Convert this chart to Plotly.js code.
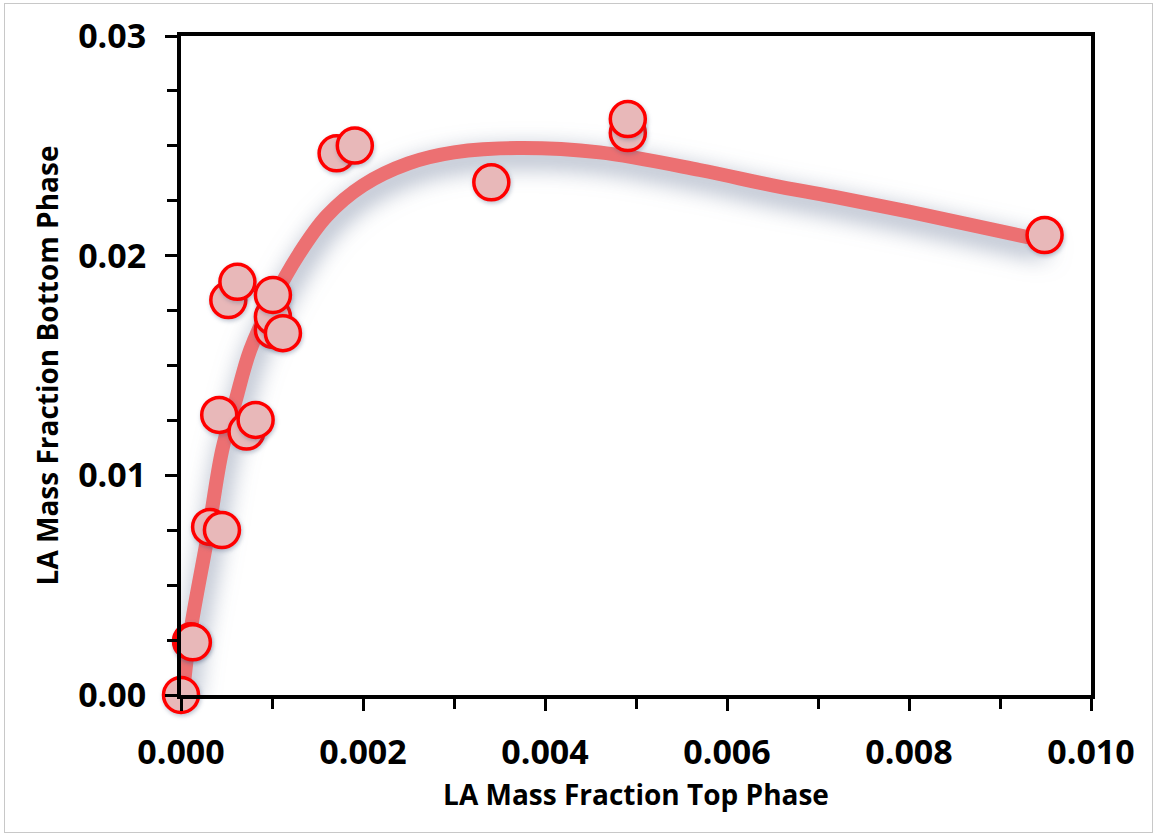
<!DOCTYPE html>
<html>
<head>
<meta charset="utf-8">
<script src="https://cdn.plot.ly/plotly-3.0.1.min.js"></script>
<style>
  html, body { margin: 0; padding: 0; background: #fff; }
  #wrap { position: relative; width: 1155px; height: 836px; }
  #chart { width: 1155px; height: 836px; }
  #frame { position: absolute; left: 4px; top: 3px; width: 1149px; height: 830px; border: 1px solid #c8c8c8; pointer-events: none; box-sizing: border-box; }
</style>
</head>
<body>
<div id="wrap"><div id="chart"></div><div id="frame"></div></div>
<script>
// Measured data points (LA mass fraction in top phase vs bottom phase)
const topPhase = [0.0000, 0.00011, 0.00013, 0.00032, 0.00045, 0.00042, 0.00072, 0.00082,
                  0.00052, 0.00062, 0.00101, 0.00101, 0.00101, 0.00112, 0.00171, 0.00191,
                  0.00341, 0.00491, 0.00491, 0.00949];
const bottomPhase = [0.0000, 0.00245, 0.00240, 0.00765, 0.00751, 0.01275, 0.01199, 0.01252,
                     0.01798, 0.01881, 0.01662, 0.01722, 0.01821, 0.01647, 0.02466, 0.02501,
                     0.02334, 0.02558, 0.02622, 0.02094];

// Fitted trend curve
const fitX = [0.00002, 0.0001, 0.0003, 0.00045, 0.0006, 0.00076, 0.0010, 0.0013, 0.0016, 0.0020,
              0.0025, 0.0030, 0.0037, 0.0046, 0.0057, 0.0065, 0.00715, 0.0080, 0.00947];
const fitY = [0.0000, 0.0028, 0.0074, 0.0111, 0.0134, 0.0157, 0.0179, 0.0201, 0.0218, 0.0232,
              0.0242, 0.0247, 0.0249, 0.0247, 0.0239, 0.0232, 0.0227, 0.0220, 0.0207];

const xTickVals = [0, 0.002, 0.004, 0.006, 0.008, 0.010];
const xTickText = ['0.000', '0.002', '0.004', '0.006', '0.008', '0.010'];
const yTickVals = [0, 0.01, 0.02, 0.03];
const yTickText = ['0.00', '0.01', '0.02', '0.03'];

const FONT = '"Open Sans", "DejaVu Sans", sans-serif';

const traces = [
  {
    x: fitX, y: fitY, type: 'scatter', mode: 'lines',
    line: { color: '#EC7072', width: 14, shape: 'spline', smoothing: 1.0 },
    hoverinfo: 'skip', showlegend: false
  },
  {
    x: topPhase, y: bottomPhase, type: 'scatter', mode: 'markers',
    marker: { size: 35, color: '#E8B8B9', line: { color: '#FF0000', width: 3.5 } },
    cliponaxis: false, showlegend: false
  }
];

const axisCommon = {
  showgrid: false, zeroline: false,
  showline: true, linecolor: '#000', linewidth: 4, mirror: true,
  ticks: 'outside', ticklen: 12, tickwidth: 3, tickcolor: '#000',
  tickfont: { family: FONT, size: 34, color: '#000', weight: 'bold' }
};

const layout = {
  width: 1155, height: 836,
  margin: { l: 181, r: 64, t: 36, b: 141 },
  paper_bgcolor: '#fff', plot_bgcolor: '#fff',
  font: { family: FONT, color: '#000' },
  xaxis: Object.assign({}, axisCommon, {
    range: [0, 0.010],
    tickmode: 'array', tickvals: xTickVals, ticktext: xTickText,
    ticklabelstandoff: 12,
    minor: { dtick: 0.001, ticks: 'outside', ticklen: 10, tickwidth: 3, tickcolor: '#000' },
    title: { text: 'LA Mass Fraction Top Phase', font: { family: FONT, size: 28, color: '#000', weight: 'bold' }, standoff: 14 }
  }),
  yaxis: Object.assign({}, axisCommon, {
    range: [0, 0.03],
    tickmode: 'array', tickvals: yTickVals, ticktext: yTickText,
    ticklabelstandoff: 12,
    minor: { dtick: 0.0025, ticks: 'outside', ticklen: 10, tickwidth: 3, tickcolor: '#000' },
    title: { text: 'LA Mass Fraction Bottom Phase', font: { family: FONT, size: 28, color: '#000', weight: 'bold' }, standoff: 12 }
  })
};

Plotly.newPlot('chart', traces, layout, { displayModeBar: false, staticPlot: true }).then(function () {
  const lines = document.querySelectorAll('.scatterlayer .trace .js-line');
  lines.forEach(function (p) {
    p.style.filter = 'drop-shadow(3px 9px 12px rgba(60, 80, 120, 0.6))';
  });
  const pts = document.querySelectorAll('.scatterlayer .trace .points path');
  pts.forEach(function (p) {
    p.style.filter = 'drop-shadow(1px 2px 2px rgba(70, 90, 125, 0.35))';
  });
});
</script>
</body>
</html>
